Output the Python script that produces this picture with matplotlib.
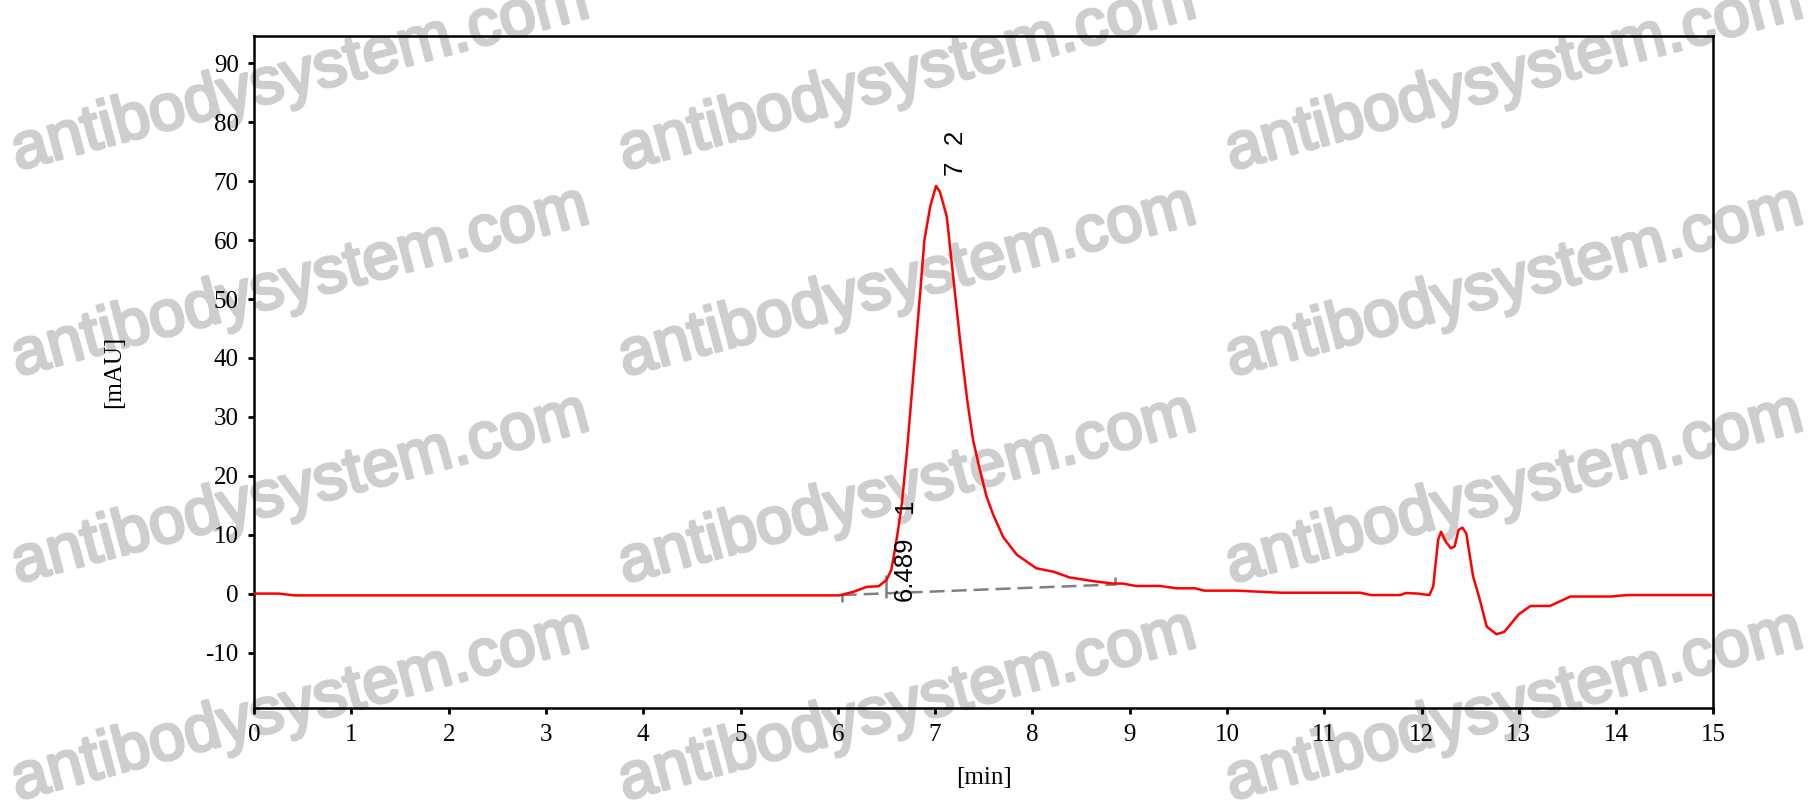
import matplotlib
matplotlib.use('Agg')
import matplotlib.pyplot as plt
import matplotlib.patheffects as pe

plt.rcParams['axes.unicode_minus'] = False

# chromatogram trace (min, mAU)
time_min = [0.0, 0.25, 0.42, 3.0, 6.02, 6.16, 6.30, 6.42, 6.50, 6.55, 6.58, 6.62, 6.66,
            6.71, 6.78, 6.85, 6.89, 6.95, 7.01, 7.05, 7.12, 7.19, 7.26, 7.33, 7.39, 7.46,
            7.53, 7.60, 7.70, 7.84, 8.04, 8.22, 8.38, 8.63, 8.83, 8.93, 9.06, 9.31, 9.48,
            9.67, 9.77, 10.10, 10.55, 11.37, 11.48, 11.78, 11.84, 11.96, 12.08, 12.12,
            12.17, 12.20, 12.25, 12.30, 12.34, 12.38, 12.42, 12.46, 12.53, 12.59, 12.67,
            12.77, 12.85, 13.00, 13.12, 13.32, 13.53, 13.94, 14.11, 15.0]
signal_mau = [0.0, 0.0, -0.3, -0.3, -0.3, 0.3, 1.15, 1.25, 2.3, 4.0, 6.8, 10.8, 15.5,
              24.0, 37.8, 51.7, 60.0, 65.7, 69.2, 68.2, 64.0, 53.2, 42.5, 32.9, 26.1, 21.0,
              16.4, 13.3, 9.6, 6.6, 4.3, 3.7, 2.75, 2.1, 1.7, 1.7, 1.3, 1.3, 0.9,
              0.9, 0.5, 0.5, 0.15, 0.15, -0.25, -0.25, 0.1, 0.0, -0.25, 1.2,
              9.1, 10.5, 8.8, 7.7, 8.0, 10.8, 11.2, 10.2, 2.9, -0.5, -5.6,
              -6.9, -6.5, -3.5, -2.1, -2.1, -0.5, -0.5, -0.25, -0.25]

# integration baseline and its marks
baseline_t = [6.04, 8.85]
baseline_y = [-0.25, 1.55]
marks_t = [6.04, 6.50, 8.85]
marks_lo = [-1.5, -0.8, 1.4]
marks_hi = [0.0, 3.1, 2.75]

# peak labels: retention time text and peak number
peak_rt = ['6.489', '7']
peak_no = ['1', '2']
label_x = [6.69, 7.20]
rt_y = [4.3, 72.2]
no_y = [14.9, 77.6]

x_ticks = list(range(0, 16))
y_ticks = list(range(-10, 100, 10))

fig = plt.figure(figsize=(18.12, 8.05), dpi=100)
ax = fig.add_axes([0.1402, 0.1199, 0.8054, 0.8358])
ax.patch.set_alpha(0)

# watermark
wm_color = '#cecece'
wm_x = [300, 907, 1514]
wm_y = [77, 283, 490, 707]
for cx in wm_x:
    for cy in wm_y:
        fig.text(cx / 1812, 1 - cy / 805, 'antibodysystem.com', fontsize=47,
                 family='Liberation Sans', color=wm_color,
                 rotation=15, ha='center', va='center', rotation_mode='anchor',
                 zorder=-5,
                 path_effects=[pe.withStroke(linewidth=2.2, foreground=wm_color)])

ax.plot(time_min, signal_mau, color='red', lw=1.8, zorder=3)
ax.plot(baseline_t, baseline_y, color='#808080', lw=1.8, dashes=(6, 2.8), zorder=2)
ax.vlines(marks_t, marks_lo, marks_hi, color='#808080', lw=1.8, zorder=2)

for x, t, n, ty, ny in zip(label_x, peak_rt, peak_no, rt_y, no_y):
    ax.text(x, ty, t, rotation=90, ha='center', va='center', fontsize=18.5,
            family='Liberation Sans', zorder=4)
    ax.text(x, ny, n, rotation=90, ha='center', va='center', fontsize=18.5,
            family='Liberation Sans', zorder=4)

ax.set_xlim(0, 15)
ax.set_ylim(-19.5, 94.7)
ax.set_xticks(x_ticks)
ax.set_yticks(y_ticks)
for lab in ax.get_xticklabels() + ax.get_yticklabels():
    lab.set_family('Liberation Serif')
    lab.set_fontsize(18)
ax.tick_params(direction='out', length=4, width=2, pad=7)
for s in ax.spines.values():
    s.set_linewidth(1.8)

ax.set_xlabel('[min]', family='Liberation Serif', fontsize=18, labelpad=15)
ax.set_ylabel('[mAU]', family='Liberation Serif', fontsize=18)
ax.yaxis.set_label_coords(-0.088, 0.5)

fig.savefig('out.png', dpi=100)
